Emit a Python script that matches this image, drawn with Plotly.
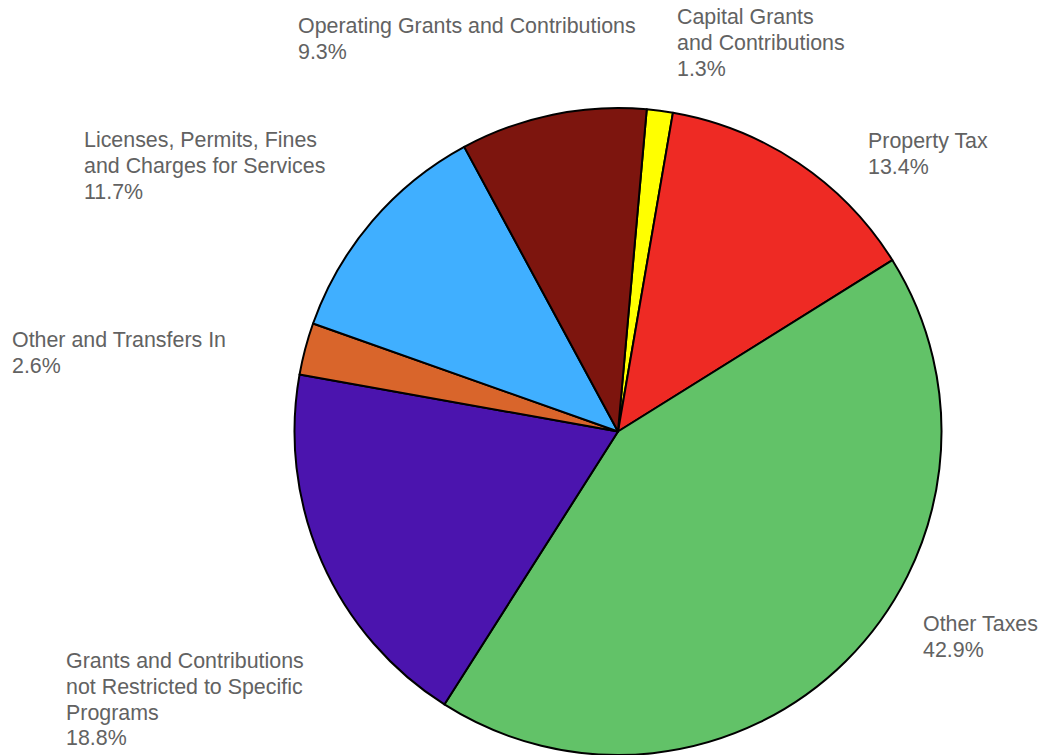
import plotly.graph_objects as go

# Revenue sources, listed clockwise from the top of the pie
labels = [
    "Capital Grants<br>and Contributions",
    "Property Tax",
    "Other Taxes",
    "Grants and Contributions<br>not Restricted to Specific<br>Programs",
    "Other and Transfers In",
    "Licenses, Permits, Fines<br>and Charges for Services",
    "Operating Grants and Contributions",
]
shares = [1.3, 13.4, 42.9, 18.8, 2.6, 11.7, 9.3]
colors = ["#FFFF00", "#EE2A24", "#62C268", "#4B14AE", "#D9652B", "#40AFFF", "#7D150E"]

# Label anchor points (left edge x, centre of first text line y), in pixels
label_x = [675.5, 866.5, 921.5, 64.5, 10.5, 82.5, 296.5]
label_y = [17, 141, 624, 661, 340, 140, 26]

W, H = 1045, 755
LINE_GAP = 25.8
FONT = dict(family="Arial, Liberation Sans, sans-serif", size=21.4, color="#626262")

fig = go.Figure(
    go.Pie(
        labels=[l.replace("<br>", " ") for l in labels],
        values=shares,
        sort=False,
        direction="clockwise",
        rotation=5.1,
        marker=dict(colors=colors, line=dict(color="#000000", width=2)),
        textinfo="none",
        hoverinfo="label+percent",
        domain=dict(x=[294 / W, 942 / W], y=[0, (H - 108) / H]),
        showlegend=False,
    )
)

annotations = []
for text, share, x0, y0 in zip(labels, shares, label_x, label_y):
    lines = text.split("<br>") + [f"{share:.1f}%"]
    for i, line in enumerate(lines):
        annotations.append(
            dict(
                text=line,
                x=x0 / W,
                y=1 - (y0 + i * LINE_GAP) / H,
                xref="paper",
                yref="paper",
                xanchor="left",
                yanchor="middle",
                showarrow=False,
                font=FONT,
                borderpad=0,
            )
        )

fig.update_layout(
    width=W,
    height=H,
    margin=dict(l=0, r=0, t=0, b=0),
    paper_bgcolor="#FFFFFF",
    plot_bgcolor="#FFFFFF",
    annotations=annotations,
)

fig.write_html("out.html")
